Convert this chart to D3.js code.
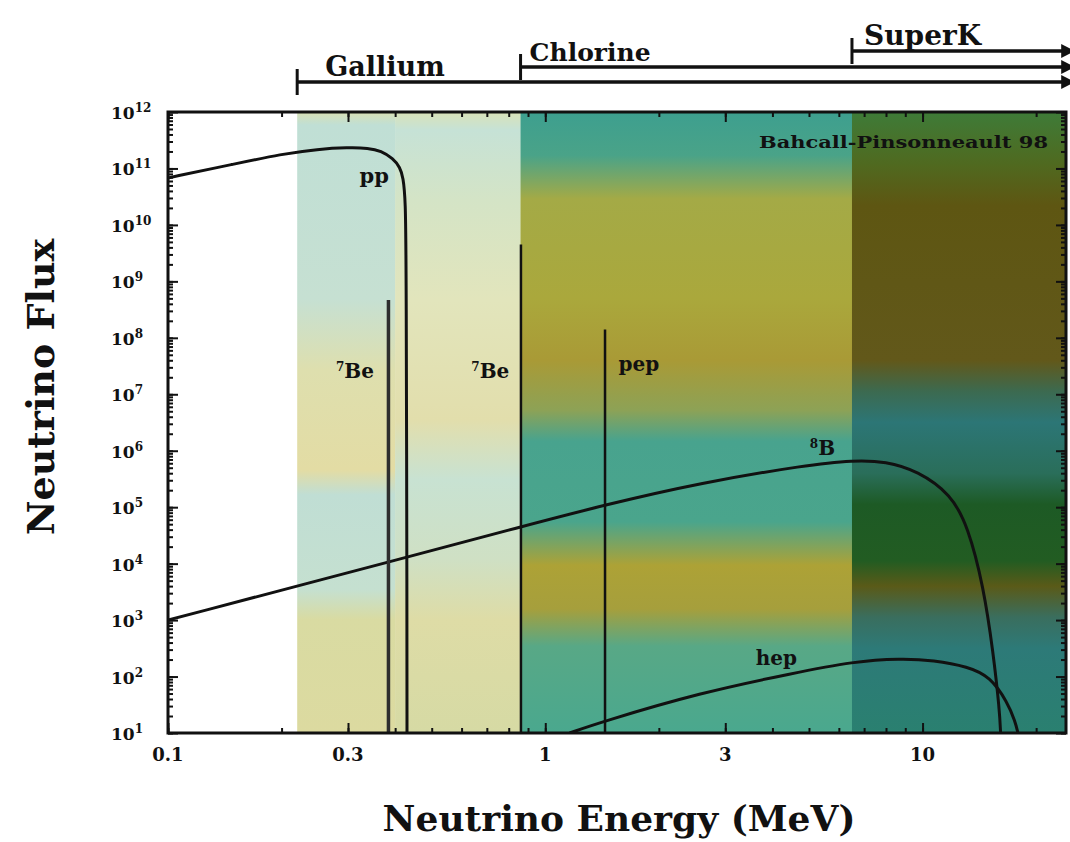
<!DOCTYPE html>
<html>
<head>
<meta charset="utf-8">
<script src="https://cdn.jsdelivr.net/npm/d3@7"></script>
<style>
body { margin: 0; background: #fff; }
text { font-family: 'DejaVu Serif', serif; font-weight: bold; fill: #111; }
</style>
</head>
<body>
<div id="chart"></div>
<script>
// spectra (energy in MeV, flux)
var ppEnergy = [0.1, 0.15, 0.2, 0.25, 0.3, 0.34, 0.367, 0.395, 0.412, 0.420, 0.426, 0.428, 0.430, 0.430];
var ppFlux = [6.8e10, 1.2e11, 1.8e11, 2.2e11, 2.35e11, 2.3e11, 2.05e11, 1.5e11, 1.05e11, 7e10, 2.8e10, 2.4e9, 1e3, 10];

var b8Energy = [0.1, 0.43, 0.862, 1.44, 2.58, 4.95, 6.56, 8.0, 9.7, 11.9, 13.2, 14.5, 15.4, 16.0, 16.1];
var b8Flux = [1.0e3, 1.3e4, 4.5e4, 1.1e5, 2.7e5, 5.6e5, 6.8e5, 6.5e5, 4.4e5, 1.7e5, 4.5e4, 4.0e3, 260, 25, 10];

var hepEnergy = [1.16, 1.40, 2.58, 4.55, 6.56, 8.75, 10.7, 13.2, 15.1, 16.8, 17.6, 17.9];
var hepFlux = [10, 15.5, 52, 115, 185, 210, 195, 150, 100, 35, 16, 10];

// monoenergetic lines
var lineEnergy = [0.384, 0.862, 1.44];
var lineFlux = [4.7e8, 4.5e9, 1.4e8];

// detector thresholds (MeV)
var detectorName = ['Gallium', 'Chlorine', 'SuperK'];
var detectorThreshold = [0.22, 0.86, 6.5];

// tick labels
var xTickLabels = [0.1, 0.3, 1, 3, 10];
var yExponents = [1, 2, 3, 4, 5, 6, 7, 8, 9, 10, 11, 12];

// colour bands of the background, [log10 flux, colour]
var bandEdges = [0.22, 0.40, 0.86, 6.5, 24];
var bandStops = [
    [[12, '#d8e0b5'], [11.77, '#c0dfd5'], [8.67, '#c6e0d2'], [7.43, '#dedfae'], [5.66, '#e3dca4'],
     [5.22, '#c0ded4'], [3.54, '#c5e0d0'], [3.01, '#d9dba2'], [1, '#dcdaa0']],
    [[12, '#d9e2b8'], [11.68, '#c6e2d6'], [10.44, '#d4e4c6'], [8.67, '#e2e5bc'], [6.55, '#e2deac'],
     [5.49, '#c8e2d2'], [4.07, '#cfe0c4'], [3.01, '#dedca6'], [1, '#d6daa4']],
    [[12, '#3d9f8f'], [11.23, '#4aa388'], [10.46, '#a4aa46'], [8.7, '#aaa83c'], [7.6, '#a99a36'],
     [6.72, '#8da256'], [6.17, '#48a38e'], [4.74, '#4aa58c'], [3.97, '#ada236'], [3.2, '#a69f3c'],
     [2.54, '#58a886'], [1, '#4aa88e']],
    [[12, '#3e7b38'], [11.1, '#4f6a20'], [10.35, '#5e5612'], [7.6, '#62581a'], [7.05, '#3c6a50'],
     [6.5, '#2c7676'], [5.6, '#2a6e5a'], [5.05, '#1d5a25'], [4.05, '#225c22'], [3.6, '#5a5a18'],
     [3.05, '#3a6e5e'], [2.5, '#2d7a78'], [1, '#2a8070']]
];

// setup (note: "top" is taken by window.top, so plotTop etc.)
var width = 1070, height = 842;
var plotLeft = 168, plotRight = 1066, plotTop = 112, plotBottom = 733;

var x = d3.scaleLog().domain([0.1, 24]).range([plotLeft, plotRight]);
var y = d3.scaleLog().domain([10, 1e12]).range([plotBottom, plotTop]);

var svg = d3.select('#chart').append('svg')
    .attr('width', width).attr('height', height);

var defs = svg.append('defs');
defs.append('clipPath').attr('id', 'plot-clip')
    .append('rect').attr('x', plotLeft).attr('y', plotTop)
    .attr('width', plotRight - plotLeft).attr('height', plotBottom - plotTop);

// vertical gradients for the background bands
bandStops.forEach(function(stops, i) {
    var g = defs.append('linearGradient').attr('id', 'band' + i)
        .attr('x1', 0).attr('y1', 0).attr('x2', 0).attr('y2', 1);
    stops.forEach(function(s) {
        g.append('stop')
            .attr('offset', (y(Math.pow(10, s[0])) - plotTop) / (plotBottom - plotTop))
            .attr('stop-color', s[1]);
    });
});

svg.append('g').selectAll('rect')
    .data(bandStops).enter().append('rect')
    .attr('x', function(d, i) { return x(bandEdges[i]); })
    .attr('width', function(d, i) { return x(bandEdges[i + 1]) - x(bandEdges[i]) + 0.5; })
    .attr('y', plotTop).attr('height', plotBottom - plotTop)
    .attr('fill', function(d, i) { return 'url(#band' + i + ')'; });

// spectra
var line = d3.line()
    .x(function(d) { return x(d[0]); })
    .y(function(d) { return y(d[1]); })
    .curve(d3.curveBasis);

var curves = [d3.zip(ppEnergy, ppFlux), d3.zip(b8Energy, b8Flux), d3.zip(hepEnergy, hepFlux)];
svg.append('g').attr('clip-path', 'url(#plot-clip)')
    .selectAll('path').data(curves).enter().append('path')
    .attr('d', line)
    .attr('fill', 'none').attr('stroke', '#111').attr('stroke-width', 3);

svg.append('g').selectAll('line').data(lineEnergy).enter().append('line')
    .attr('x1', function(d) { return x(d); }).attr('x2', function(d) { return x(d); })
    .attr('y1', function(d, i) { return y(lineFlux[i]); }).attr('y2', plotBottom)
    .attr('stroke', function(d, i) { return i == 0 ? '#2e2e2e' : '#111'; })
    .attr('stroke-width', function(d, i) { return i == 0 ? 3.5 : 2.5; });

// axes: ticks point inwards on all four sides
var xMinor = x.ticks(), yMinor = y.ticks(200);
var yMajor = yExponents.map(function(e) { return Math.pow(10, e); });

function ticks(axis, pos, values, size) {
    var g = svg.append('g').attr('transform', pos)
        .call(axis.tickValues(values).tickSize(size).tickFormat(''));
    g.select('.domain').remove();
    g.selectAll('line').attr('stroke', '#111').attr('stroke-width', 2);
}
ticks(d3.axisBottom(x), 'translate(0,' + plotBottom + ')', xMinor, -5);
ticks(d3.axisBottom(x), 'translate(0,' + plotBottom + ')', xTickLabels, -10);
ticks(d3.axisTop(x), 'translate(0,' + plotTop + ')', xMinor, -5);
ticks(d3.axisTop(x), 'translate(0,' + plotTop + ')', xTickLabels, -10);
ticks(d3.axisLeft(y), 'translate(' + plotLeft + ',0)', yMinor, -5);
ticks(d3.axisLeft(y), 'translate(' + plotLeft + ',0)', yMajor, -10);
ticks(d3.axisRight(y), 'translate(' + plotRight + ',0)', yMinor, -5);
ticks(d3.axisRight(y), 'translate(' + plotRight + ',0)', yMajor, -10);

// frame
svg.append('rect')
    .attr('x', plotLeft).attr('y', plotTop)
    .attr('width', plotRight - plotLeft).attr('height', plotBottom - plotTop)
    .attr('fill', 'none').attr('stroke', '#111').attr('stroke-width', 3);

// tick labels
svg.append('g').selectAll('text').data(xTickLabels).enter().append('text')
    .attr('x', function(d) { return x(d); }).attr('y', plotBottom + 28)
    .attr('text-anchor', 'middle').attr('font-size', 18)
    .text(function(d) { return d; });

var yLab = svg.append('g').selectAll('text').data(yExponents).enter().append('text')
    .attr('x', 111).attr('y', function(d) { return y(Math.pow(10, d)) + 7; })
    .attr('font-size', 17);
yLab.append('tspan').text('10');
yLab.append('tspan').attr('font-size', 12).attr('dy', -7).text(function(d) { return d; });

// axis titles
svg.append('text')
    .attr('x', (plotLeft + plotRight) / 2 + 2).attr('y', 831)
    .attr('text-anchor', 'middle').attr('font-size', 36)
    .text('Neutrino Energy (MeV)');

svg.append('text')
    .attr('transform', 'translate(54,387) rotate(-90)')
    .attr('text-anchor', 'middle').attr('font-size', 38)
    .text('Neutrino Flux');

// curve labels
function label(txt, sup, e, f, size) {
    var t = svg.append('text')
        .attr('x', x(e)).attr('y', y(f))
        .attr('text-anchor', 'middle').attr('font-size', size);
    if (sup) t.append('tspan').attr('font-size', size * 0.6).attr('dy', -7).text(sup);
    t.append('tspan').attr('dy', sup ? 7 : 0).text(txt);
}
label('pp', '', 0.352, 5.5e10, 21);
label('Be', '7', 0.313, 1.95e7, 20);
label('Be', '7', 0.715, 1.95e7, 20);
label('pep', '', 1.77, 2.6e7, 20);
label('B', '8', 5.43, 8.5e5, 20);
label('hep', '', 4.1, 1.6e2, 20);

svg.append('text')
    .attr('x', x(21.5)).attr('y', y(2.3e11))
    .attr('text-anchor', 'end').attr('font-size', 17)
    .attr('textLength', 289).attr('lengthAdjust', 'spacingAndGlyphs')
    .text('Bahcall-Pinsonneault 98');

// detector ranges above the plot
var rangeY = [82, 67, 51];
defs.append('marker').attr('id', 'arrow')
    .attr('viewBox', '0 0 10 10').attr('refX', 2).attr('refY', 5)
    .attr('markerWidth', 4).attr('markerHeight', 4).attr('orient', 'auto')
    .append('path').attr('d', 'M0,0 L10,5 L0,10 Z').attr('fill', '#111');

var det = svg.append('g').selectAll('g').data(detectorName).enter().append('g');
det.append('line')
    .attr('x1', function(d, i) { return x(detectorThreshold[i]); }).attr('x2', width - 6)
    .attr('y1', function(d, i) { return rangeY[i]; }).attr('y2', function(d, i) { return rangeY[i]; })
    .attr('stroke', '#111').attr('stroke-width', 3.5).attr('marker-end', 'url(#arrow)');
det.append('line')
    .attr('x1', function(d, i) { return x(detectorThreshold[i]); })
    .attr('x2', function(d, i) { return x(detectorThreshold[i]); })
    .attr('y1', function(d, i) { return rangeY[i] - 13; })
    .attr('y2', function(d, i) { return rangeY[i] + 13; })
    .attr('stroke', '#111').attr('stroke-width', 3);
det.append('text')
    .attr('x', function(d, i) { return x(detectorThreshold[i]) + [28, 9, 12][i]; })
    .attr('y', function(d, i) { return rangeY[i] - 6; })
    .attr('font-size', function(d, i) { return [27, 25, 28][i]; })
    .text(function(d) { return d; });
</script>
</body>
</html>
